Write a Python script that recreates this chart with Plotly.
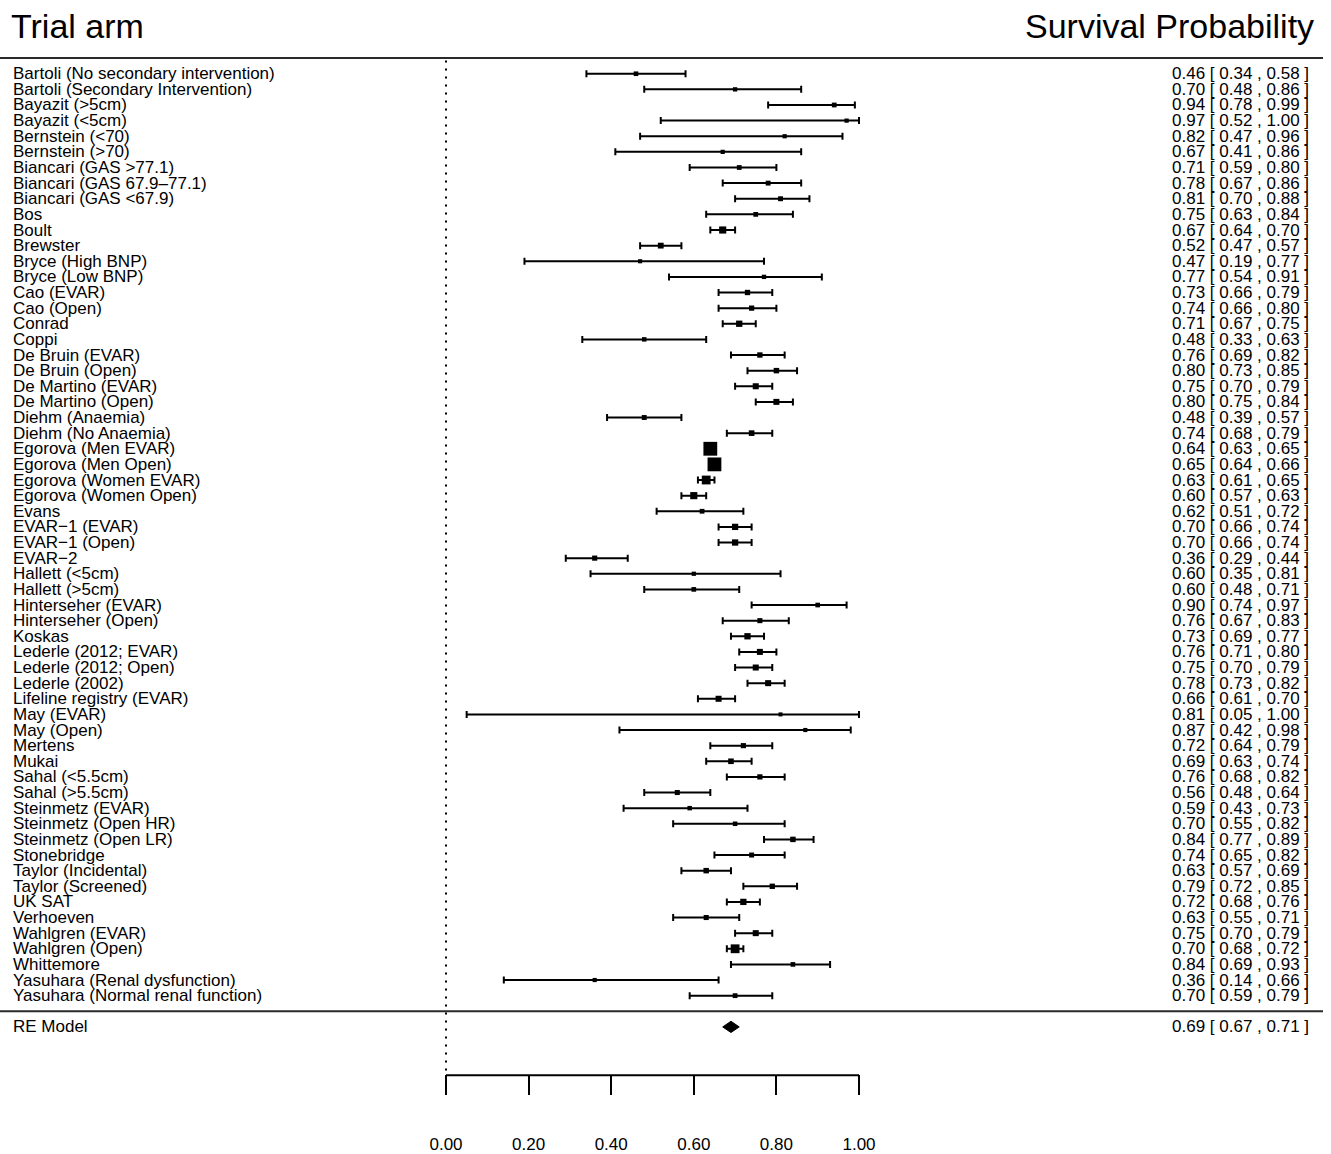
import numpy as np
import plotly.graph_objects as go

# ---------------- data ----------------
studies = [
    "Bartoli (No secondary intervention)", "Bartoli (Secondary Intervention)",
    "Bayazit (>5cm)", "Bayazit (<5cm)", "Bernstein (<70)", "Bernstein (>70)",
    "Biancari (GAS >77.1)", "Biancari (GAS 67.9\u201377.1)", "Biancari (GAS <67.9)",
    "Bos", "Boult", "Brewster", "Bryce (High BNP)", "Bryce (Low BNP)",
    "Cao (EVAR)", "Cao (Open)", "Conrad", "Coppi", "De Bruin (EVAR)", "De Bruin (Open)",
    "De Martino (EVAR)", "De Martino (Open)", "Diehm (Anaemia)", "Diehm (No Anaemia)",
    "Egorova (Men EVAR)", "Egorova (Men Open)", "Egorova (Women EVAR)", "Egorova (Women Open)",
    "Evans", "EVAR\u22121 (EVAR)", "EVAR\u22121 (Open)", "EVAR\u22122",
    "Hallett (<5cm)", "Hallett (>5cm)", "Hinterseher (EVAR)", "Hinterseher (Open)",
    "Koskas", "Lederle (2012; EVAR)", "Lederle (2012; Open)", "Lederle (2002)",
    "Lifeline registry (EVAR)", "May (EVAR)", "May (Open)", "Mertens", "Mukai",
    "Sahal (<5.5cm)", "Sahal (>5.5cm)", "Steinmetz (EVAR)", "Steinmetz (Open HR)",
    "Steinmetz (Open LR)", "Stonebridge", "Taylor (Incidental)", "Taylor (Screened)",
    "UK SAT", "Verhoeven", "Wahlgren (EVAR)", "Wahlgren (Open)", "Whittemore",
    "Yasuhara (Renal dysfunction)", "Yasuhara (Normal renal function)",
]
estimate = [
    0.46, 0.70, 0.94, 0.97, 0.82, 0.67, 0.71, 0.78, 0.81, 0.75, 0.67, 0.52, 0.47, 0.77,
    0.73, 0.74, 0.71, 0.48, 0.76, 0.80, 0.75, 0.80, 0.48, 0.74, 0.64, 0.65, 0.63, 0.60,
    0.62, 0.70, 0.70, 0.36, 0.60, 0.60, 0.90, 0.76, 0.73, 0.76, 0.75, 0.78, 0.66, 0.81,
    0.87, 0.72, 0.69, 0.76, 0.56, 0.59, 0.70, 0.84, 0.74, 0.63, 0.79, 0.72, 0.63, 0.75,
    0.70, 0.84, 0.36, 0.70,
]
lower = [
    0.34, 0.48, 0.78, 0.52, 0.47, 0.41, 0.59, 0.67, 0.70, 0.63, 0.64, 0.47, 0.19, 0.54,
    0.66, 0.66, 0.67, 0.33, 0.69, 0.73, 0.70, 0.75, 0.39, 0.68, 0.63, 0.64, 0.61, 0.57,
    0.51, 0.66, 0.66, 0.29, 0.35, 0.48, 0.74, 0.67, 0.69, 0.71, 0.70, 0.73, 0.61, 0.05,
    0.42, 0.64, 0.63, 0.68, 0.48, 0.43, 0.55, 0.77, 0.65, 0.57, 0.72, 0.68, 0.55, 0.70,
    0.68, 0.69, 0.14, 0.59,
]
upper = [
    0.58, 0.86, 0.99, 1.00, 0.96, 0.86, 0.80, 0.86, 0.88, 0.84, 0.70, 0.57, 0.77, 0.91,
    0.79, 0.80, 0.75, 0.63, 0.82, 0.85, 0.79, 0.84, 0.57, 0.79, 0.65, 0.66, 0.65, 0.63,
    0.72, 0.74, 0.74, 0.44, 0.81, 0.71, 0.97, 0.83, 0.77, 0.80, 0.79, 0.82, 0.70, 1.00,
    0.98, 0.79, 0.74, 0.82, 0.64, 0.73, 0.82, 0.89, 0.82, 0.69, 0.85, 0.76, 0.71, 0.79,
    0.72, 0.93, 0.66, 0.79,
]
re_label = "RE Model"
re_estimate, re_lower, re_upper = 0.69, 0.67, 0.71
tick_values = [0.0, 0.2, 0.4, 0.6, 0.8, 1.0]
tick_labels = ["0.00", "0.20", "0.40", "0.60", "0.80", "1.00"]
header_left = "Trial arm"
header_right = "Survival Probability"

# ---------------- layout geometry ----------------
W, H = 1331, 1154
X0_PX, PX_PER_UNIT = 446, 413
ROW1_PX, ROW_STEP = 74, 15.68
FONT = "Liberation Sans, Arial, Helvetica, sans-serif"


def row_of_px(p):
    return 1 + (p - ROW1_PX) / ROW_STEP


est = np.array(estimate)
lo = np.array(lower)
hi = np.array(upper)
n = len(studies)
rows = np.arange(1, n + 1)
re_row = n + 2
sep_row = n + 1
top_row = 0
axis_row = row_of_px(1079)

# square size ~ precision (inverse CI width)
sizes = 4.0 + 0.2 * (1.0 / (hi - lo) - 1)

fig = go.Figure()

fig.add_trace(go.Scatter(
    x=est, y=rows, mode="markers",
    marker=dict(symbol="square", size=sizes, color="black", opacity=1,
                line=dict(width=0)),
    error_x=dict(type="data", symmetric=False, array=hi - est, arrayminus=est - lo,
                 color="black", thickness=2, width=3.5),
    hoverinfo="skip", showlegend=False, cliponaxis=False,
))

dh = 0.36
fig.add_trace(go.Scatter(
    x=[re_lower, re_estimate, re_upper, re_estimate, re_lower],
    y=[re_row, re_row - dh, re_row, re_row + dh, re_row],
    mode="lines", fill="toself", fillcolor="black",
    line=dict(color="black", width=1), hoverinfo="skip", showlegend=False,
))

shapes = []
for r in (top_row, sep_row):
    shapes.append(dict(type="line", xref="paper", yref="y", x0=0, x1=1323 / W, y0=r, y1=r,
                       line=dict(color="#2a2a2a", width=2)))
shapes.append(dict(type="line", xref="x", yref="y", x0=0, x1=0, y0=top_row + 0.15, y1=axis_row,
                   line=dict(color="black", width=2, dash="2px,6px")))
shapes.append(dict(type="line", xref="x", yref="y", x0=tick_values[0], x1=tick_values[-1],
                   y0=axis_row, y1=axis_row, line=dict(color="black", width=2)))

annotations = []
tf = dict(family=FONT, size=17, color="black")
for i, s in enumerate(studies):
    annotations.append(dict(x=12 / W, y=rows[i], xref="paper", yref="y", text=s,
                            xanchor="left", yanchor="middle", showarrow=False, font=tf,
                            borderpad=0))
    annotations.append(dict(x=1310 / W, y=rows[i], xref="paper", yref="y",
                            text=f"{est[i]:.2f} [ {lo[i]:.2f} , {hi[i]:.2f} ]",
                            xanchor="right", yanchor="middle", showarrow=False, font=tf,
                            borderpad=0))
annotations.append(dict(x=12 / W, y=re_row, xref="paper", yref="y", text=re_label,
                        xanchor="left", yanchor="middle", showarrow=False, font=tf, borderpad=0))
annotations.append(dict(x=1310 / W, y=re_row, xref="paper", yref="y",
                        text=f"{re_estimate:.2f} [ {re_lower:.2f} , {re_upper:.2f} ]",
                        xanchor="right", yanchor="middle", showarrow=False, font=tf, borderpad=0))
hf = dict(family=FONT, size=34, color="black")
annotations.append(dict(x=10 / W, y=row_of_px(26), xref="paper", yref="y", text=header_left,
                        xanchor="left", yanchor="middle", showarrow=False, font=hf, borderpad=0))
annotations.append(dict(x=1315 / W, y=row_of_px(26), xref="paper", yref="y", text=header_right,
                        xanchor="right", yanchor="middle", showarrow=False, font=hf, borderpad=0))

fig.update_layout(
    width=W, height=H, margin=dict(l=0, r=0, t=0, b=0),
    paper_bgcolor="white", plot_bgcolor="white",
    shapes=shapes, annotations=annotations, showlegend=False,
    xaxis=dict(range=[-X0_PX / PX_PER_UNIT, (W - X0_PX) / PX_PER_UNIT],
               showgrid=False, zeroline=False, showline=False,
               tickmode="array", tickvals=tick_values, ticktext=tick_labels,
               ticks="outside", ticklen=20, tickwidth=2, tickcolor="black",
               anchor="free", position=(H - 1078) / H,
               ticklabelstandoff=34,
               tickfont=dict(family=FONT, size=17, color="black")),
    yaxis=dict(range=[row_of_px(H), row_of_px(0)], visible=False,
               showgrid=False, zeroline=False),
)

fig.write_html(
    "out.html",
    config={"displayModeBar": False},
    post_script="document.body.style.margin='0';document.body.style.overflow='hidden';",
)
